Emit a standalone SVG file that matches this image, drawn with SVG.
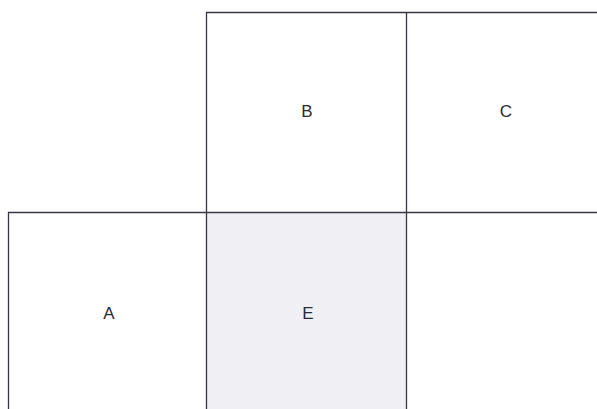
<svg xmlns="http://www.w3.org/2000/svg" width="597" height="409" viewBox="0 0 597 409">
<style>
.cell{fill:none;stroke:#35364a;stroke-width:1.3}
.lbl{font-family:"Liberation Sans",Arial,sans-serif;font-size:17px;fill:#2a2a38;text-anchor:middle;dominant-baseline:central}
</style>
<rect width="597" height="409" fill="#ffffff"/>
<g id="E"><rect x="206.5" y="212.5" width="200" height="200" fill="#f0f0f4"/><text class="lbl" x="308" y="313">E</text></g>
<g id="B"><text class="lbl" x="307" y="111">B</text></g>
<g id="C"><text class="lbl" x="506" y="111">C</text></g>
<g id="A"><text class="lbl" x="109" y="313">A</text></g>
<g id="connectors">
<path class="cell" d="M206.5,409 V12.5 H597"/>
<path class="cell" d="M406.5,12.5 V409"/>
<path class="cell" d="M8.5,409 V212.5 H597"/>
</g>
</svg>
